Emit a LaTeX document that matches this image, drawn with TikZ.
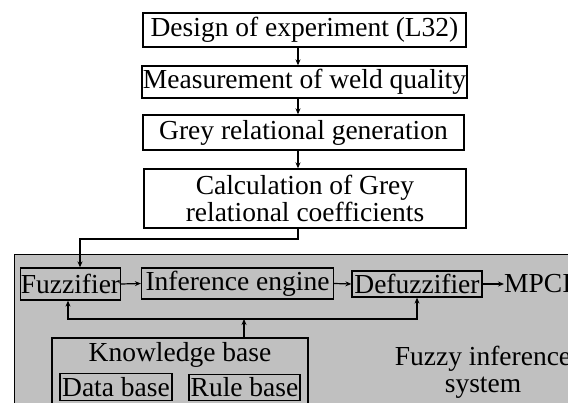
\documentclass[tikz,border=0pt]{standalone}
\usepackage{fontspec}
\setmainfont{Liberation Serif}
\usepackage{xcolor}
\usepackage{tikz}
\usetikzlibrary{arrows.meta,calc}
\definecolor{fisgray}{RGB}{192,192,192}

\begin{document}
\begin{tikzpicture}[x=1pt, y=-1pt,
% common options for the flow boxes:
box/.style = {draw, line width=1.3pt, align=center, inner sep=0,
            font=\fontsize{27.5}{27}\selectfont},
% common options for the boxes inside the grey system:
fbox/.style = {box, fill=fisgray},
% common options for the arrows:
arr/.style = {line width=1.2pt, -{Stealth[length=6pt,width=5pt]}}]
\clip (0,0) rectangle (568,403);
\useasboundingbox (0,0) rectangle (568,403);
\fill[white] (0,0) rectangle (568,403);
\draw[fisgray!100, fill=fisgray, line width=1pt] (14,255) rectangle (600,440);
\draw[line width=1pt] (600,255) -- (14,255) -- (14,440);
\node[box, minimum width=323, minimum height=34] (B1) at (304.5,30) {Design of experiment (L32)};
\node[box, minimum width=325, minimum height=32] (B2) at (304.5,82) {Measurement of weld quality};
\node[box, minimum width=321, minimum height=35] (B3) at (303.5,132.5) {Grey relational generation};
\node[box, minimum width=322, minimum height=59] (B4) at (305,198.5) {Calculation of Grey\\relational coefficients};
\node[fbox, minimum width=100, minimum height=32] (F1) at (70.5,284) {Fuzzifier};
\node[fbox, minimum width=192, minimum height=31] (F2) at (237.5,283.5) {Inference engine};
\node[fbox, minimum width=130, minimum height=26] (F3) at (417,284) {Defuzzifier};
\node[anchor=west, inner sep=0, font=\fontsize{27.5}{27}\selectfont] (OUT) at (504,284) {MPCI};
\node[fbox, minimum width=256, minimum height=76] (KB) at (180,376) {};
\node[inner sep=0, font=\fontsize{27.5}{27}\selectfont] (KBL) at (180,355) {Knowledge base};
\node[fbox, minimum width=112, minimum height=27] (K1) at (116,387) {Data base};
\node[fbox, minimum width=111, minimum height=26] (K2) at (244.5,387.5) {Rule base};
\node[align=center, inner sep=0, font=\fontsize{27.5}{27}\selectfont] (FIS) at (483,372) {Fuzzy inference\\system};
% flow links
\coordinate (ax) at (298,0);
\coordinate (turn) at (80,239);
\draw[arr] (B1.south -| ax) -- (B2.north -| ax);
\draw[arr] (B2.south -| ax) -- (B3.north -| ax);
\draw[arr] (B3.south -| ax) -- (B4.north -| ax);
\draw[arr] (B4.south -| ax) |- (turn) -- (turn |- F1.north);
\draw[arr] (F1.east) -- (F2.west);
\draw[arr] (F2.east) -- (F3.west);
\draw[arr] (F3.east) -- (OUT.west);
% knowledge base feeds both ends
\coordinate (kbjoin) at (244,319);
\draw[arr] (KB.north -| kbjoin) -- (kbjoin);
\draw[arr] (kbjoin) -| (F3.south);
\draw[arr] (kbjoin) -| ($(F1.south)+(-2.5,0)$);
\end{tikzpicture}
\end{document}
